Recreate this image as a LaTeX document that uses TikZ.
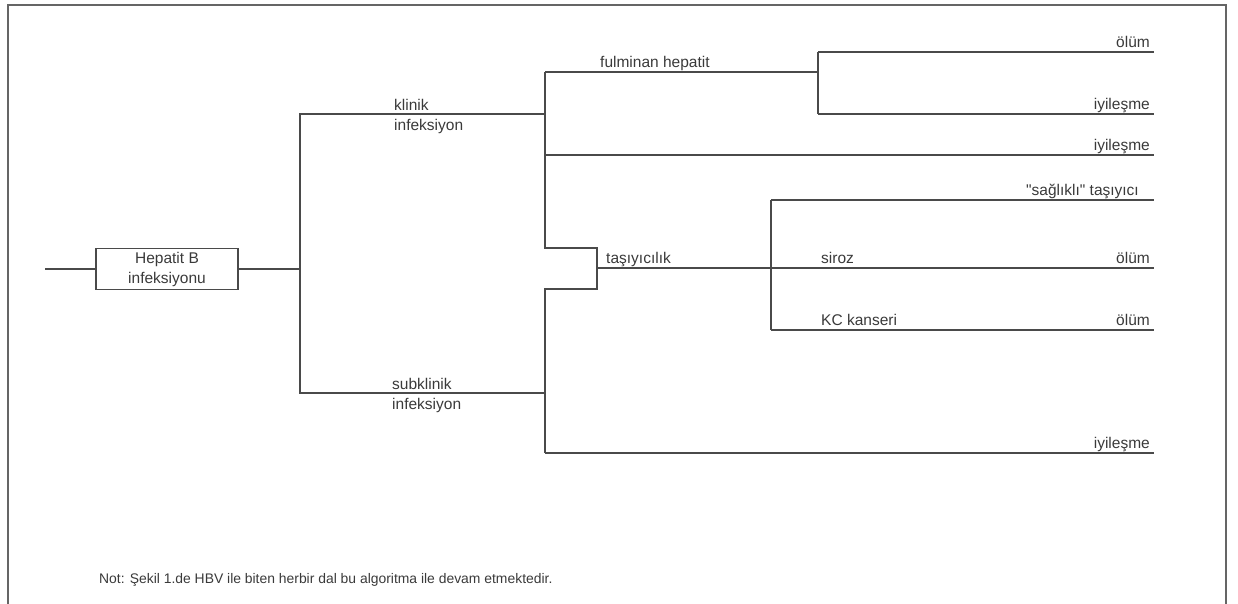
\documentclass[tikz,border=0pt]{standalone}
\usepackage{fontspec}
\setmainfont{Liberation Sans}[Ligatures=TeXOff]
\usepackage{xcolor}
\usetikzlibrary{positioning}

\definecolor{ink}{HTML}{4A4A4A}
\definecolor{txt}{HTML}{3A3A3A}

\tikzset{
  branch/.style={draw=ink, line width=1.4pt},
  frame/.style={draw=ink!85, line width=1.1pt},
  box/.style={draw=ink, line width=1.4pt, minimum width=142pt, minimum height=41pt,
    inner sep=0pt, align=center, text=txt, font=\fontsize{15.5}{20}\selectfont},
  llab/.style={anchor=base west, yshift=4.5pt, inner sep=0pt, text=txt, font=\fontsize{15.5}{20}\selectfont},
  rlab/.style={anchor=base east, yshift=4.5pt, inner sep=0pt, text=txt, font=\fontsize{15.5}{20}\selectfont},
  duo/.style={anchor=west, yshift=-2pt, inner sep=0pt, align=left, text=txt, font=\fontsize{15.5}{20}\selectfont},
  note/.style={anchor=base west, inner sep=0pt, text=txt, font=\fontsize{13.9}{16}\selectfont}
}

\begin{document}
\begin{tikzpicture}[x=1pt, y=-1pt]
  \useasboundingbox (0,0) rectangle (1238,604);

  % page frame
  \draw[frame] (8,604) |- (1226,5) -- (1226,604);

  % root
  \coordinate (in) at (45,269);
  \node[box] (hbv) at (167,269) {Hepatit B\\infeksiyonu};
  \coordinate (j1) at (300,269);
  \draw[branch] (in) -- (hbv) -- (j1);

  % klinik / subklinik
  \coordinate (k0) at (300,114);
  \coordinate (k1) at (545,114);
  \coordinate (s0) at (300,393);
  \coordinate (s1) at (545,393);
  \draw[branch] (k1) -- (k0) -- (s0) -- (s1);

  % second level junctions
  \coordinate (ft) at (545,72);
  \coordinate (f1) at (818,72);
  \coordinate (ki) at (545,155);
  \coordinate (kt) at (545,248);
  \coordinate (bt) at (597,248);
  \coordinate (bb) at (597,289);
  \coordinate (sb) at (545,289);
  \coordinate (si) at (545,453);
  \draw[branch] (ft) -- (kt) -- (bt) -- (bb) -- (sb) -- (si);

  % fulminan split
  \coordinate (fa) at (818,52);
  \coordinate (fb) at (818,114);
  \draw[branch] (fa) -- (fb);

  % carrier split
  \coordinate (tc) at (597,268);
  \coordinate (sa) at (771,200);
  \coordinate (kc) at (771,330);
  \draw[branch] (sa) -- (kc);

  % end points
  \foreach \n/\y in {fae/52, fbe/114, kie/155, sae/200, te/268, kce/330, sie/453}
    \coordinate (\n) at (1154,\y);

  \foreach \a/\b in {ft/f1, fa/fae, fb/fbe, ki/kie, tc/te, sa/sae, kc/kce, si/sie}
    \draw[branch] (\a) -- (\b);

  % labels
  \node[duo] (klin) at (394,114) {klinik\\infeksiyon};
  \node[duo] (subk) at (392,393) {subklinik\\infeksiyon};
  \node[llab] (fulm) at (600,72) {fulminan hepatit};
  \node[llab] (tasi) at (606,268) {taşıyıcılık};
  \node[llab] (siro) at (821,268) {siroz};
  \node[llab] (kcka) at (821,330) {KC kanseri};

  \node[rlab] (olm1) at (1150,52) {ölüm};
  \node[rlab] (iyi1) at (1150,114) {iyileşme};
  \node[rlab] (iyi2) at (1150,155) {iyileşme};
  \node[rlab] (sagl) at (1139,200) {"sağlıklı" taşıyıcı};
  \node[rlab] (olm2) at (1150,268) {ölüm};
  \node[rlab] (olm3) at (1150,330) {ölüm};
  \node[rlab] (iyi3) at (1150,453) {iyileşme};

  % footnote
  \node[note] (not) at (99,583) {Not: Şekil 1.de HBV ile biten herbir dal bu algoritma ile devam etmektedir.};
\end{tikzpicture}
\end{document}
